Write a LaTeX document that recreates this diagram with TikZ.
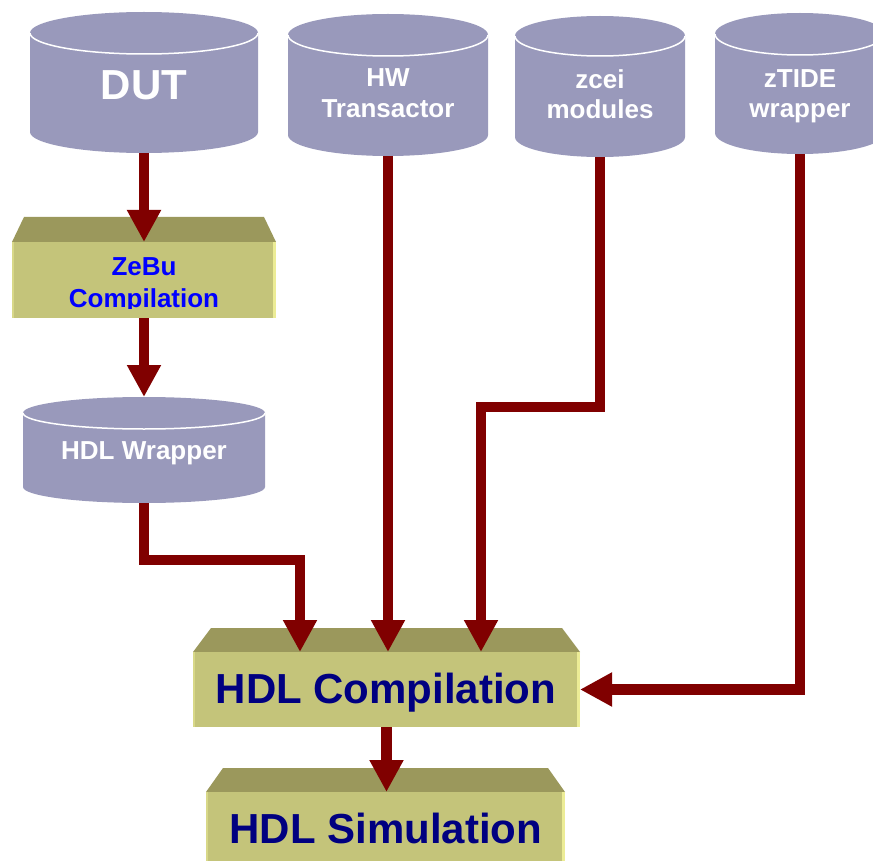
\documentclass[tikz,border=0pt]{standalone}
\usepackage{fontspec}
\setmainfont{Liberation Sans}
\usetikzlibrary{arrows.meta}
\definecolor{cylfill}{RGB}{153,153,187}
\definecolor{facefill}{RGB}{196,196,122}
\definecolor{bevelfill}{RGB}{155,152,92}
\definecolor{hilite}{RGB}{236,236,150}
\definecolor{arrowred}{RGB}{128,0,0}
\definecolor{navytext}{RGB}{0,0,128}
\definecolor{bluetext}{RGB}{0,0,255}
% #1 left, #2 right, #3 top-ellipse centre y, #4 bottom-ellipse centre y, #5 y radius
\newcommand\drumshape[5]{%
  \pgfmathsetmacro\dcx{(#1+#2)/2}%
  \pgfmathsetmacro\dk{0.5523*(#2-#1)/2}%
  \pgfmathsetmacro\dky{0.5523*#5}%
  \fill[cylfill] (#1,#3) -- (#1,#4)
    .. controls (#1,#4+\dky) and (\dcx-\dk,#4+#5) .. (\dcx,#4+#5)
    .. controls (\dcx+\dk,#4+#5) and (#2,#4+\dky) .. (#2,#4)
    -- (#2,#3)
    .. controls (#2,#3-\dky) and (\dcx+\dk,#3-#5) .. (\dcx,#3-#5)
    .. controls (\dcx-\dk,#3-#5) and (#1,#3-\dky) .. (#1,#3) -- cycle;
  \draw[white,line width=1.5pt] (#1,#3)
    .. controls (#1,#3+\dky) and (\dcx-\dk,#3+#5) .. (\dcx,#3+#5)
    .. controls (\dcx+\dk,#3+#5) and (#2,#3+\dky) .. (#2,#3);
}
% #1 left, #2 right, #3 bevel top y, #4 face top y, #5 bottom y, #6 inset
\newcommand\bevelshape[6]{%
  \fill[bevelfill] (#1+#6,#3) -- (#2-#6,#3) -- (#2,#4) -- (#1,#4) -- cycle;
  \fill[facefill] (#1,#4) rectangle (#2,#5);
  \fill[hilite] (#2-3,#4) rectangle (#2,#5);
  \fill[hilite!50!facefill] (#1,#4) rectangle (#1+1.5,#5);
}
\begin{document}
\begin{tikzpicture}[x=1pt,y=-1pt,
  arr/.style={draw=arrowred, line width=10.5pt, -{Triangle[width=32pt,length=32pt]}},
  hold/.style={inner sep=0pt, outer sep=0pt, draw=none, rectangle},
  wlbl/.style={inner sep=0pt, text=white, anchor=base, font=\bfseries\fontsize{26}{30}\selectfont},
  blbl/.style={inner sep=0pt, text=navytext, anchor=base, font=\bfseries\fontsize{42}{48}\selectfont}]
\useasboundingbox (0,0) rectangle (873,861);
\clip (0,0) rectangle (873,861);
\fill[white] (0,0) rectangle (873,861);

% cylinders
\drumshape{30}{258}{33}{132}{21}
\drumshape{288}{488}{35}{135}{21}
\drumshape{515}{685}{36}{137}{20}
\drumshape{715}{885}{34}{133}{21}
\drumshape{23}{265}{413}{487}{16}
\node[hold, minimum width=228pt, minimum height=141pt] (dut) at (144,82.5) {};
\node[hold, minimum width=200pt, minimum height=142pt] (hw) at (388,85) {};
\node[hold, minimum width=170pt, minimum height=141pt] (zcei) at (600,86.5) {};
\node[hold, minimum width=170pt, minimum height=141pt] (ztide) at (800,83.5) {};
\node[hold, minimum width=242pt, minimum height=106pt] (wrap) at (144,450) {};

% bevelled boxes
\bevelshape{12}{276}{217}{242}{318}{12}
\bevelshape{193}{580}{628}{652}{727}{18}
\bevelshape{206}{565}{768}{792}{880}{17}
\node[hold, minimum width=264pt, minimum height=76pt] (zebu) at (144,280) {};
\node[hold, minimum width=387pt, minimum height=75pt] (comp) at (386.5,689.5) {};
\node[hold, minimum width=359pt, minimum height=88pt] (sim) at (385.5,836) {};

% labels
\node[wlbl, font=\bfseries\fontsize{42}{48}\selectfont] (dutl) at (144,100) {DUT};
\node[wlbl] (hwl1) at (388,87) {HW};
\node[wlbl] (hwl2) at (388,118) {Transactor};
\node[wlbl] (zceil1) at (600,89) {zcei};
\node[wlbl] (zceil2) at (600,119) {modules};
\node[wlbl] (ztidel1) at (800,88) {zTIDE};
\node[wlbl] (ztidel2) at (800,118) {wrapper};
\node[wlbl] (wrapl) at (144,459) {HDL Wrapper};
\begin{scope}
  \clip (12,242) rectangle (276,308);
  \node[wlbl, text=bluetext] (zebul1) at (144,276) {ZeBu};
  \node[wlbl, text=bluetext] (zebul2) at (144,307) {Compilation};
\end{scope}
\node[blbl] (compl) at (386,703) {HDL Compilation};
\node[blbl] (siml) at (386,843) {HDL Simulation};

% connectors
\coordinate (j1) at (300,560);
\coordinate (j2) at (481,407);
\draw[arr] (dut.south) -- (zebu.north);
\draw[arr] (zebu.south) -- (wrap.north);
\draw[arr] (wrap.south) |- (j1) -- (j1 |- comp.north);
\draw[arr] (hw.south) -- (hw.south |- comp.north);
\draw[arr] (zcei.south) |- (j2) -- (j2 |- comp.north);
\draw[arr] (ztide.south) |- (comp.east);
\draw[arr] (comp.south) -- (comp.south |- sim.north);
\end{tikzpicture}
\end{document}
